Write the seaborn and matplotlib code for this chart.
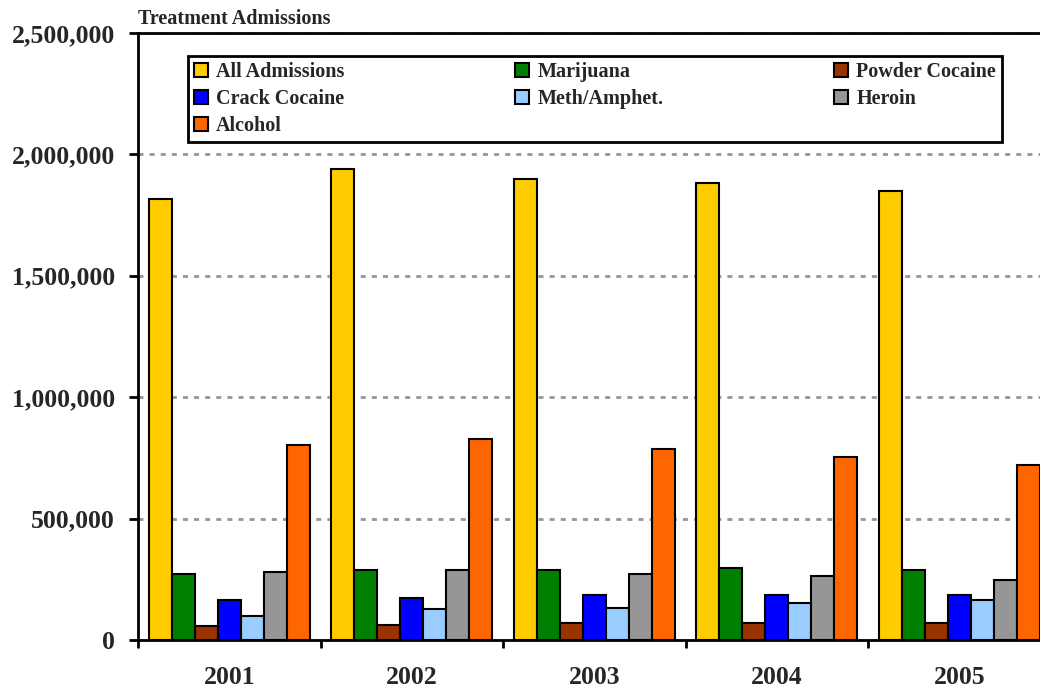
import matplotlib.pyplot as plt
import pandas as pd
import seaborn as sns
from matplotlib.ticker import FuncFormatter

years = ["2001", "2002", "2003", "2004", "2005"]
all_admissions = [1818000, 1941000, 1900000, 1883000, 1851000]
marijuana = [272000, 288000, 288000, 297000, 288000]
powder_cocaine = [59000, 60000, 71000, 71000, 71000]
crack_cocaine = [165000, 175000, 185000, 185000, 185000]
meth_amphet = [100000, 126000, 133000, 151000, 165000]
heroin = [280000, 288000, 272000, 264000, 248000]
alcohol = [804000, 829000, 788000, 755000, 722000]

types = ["All Admissions", "Marijuana", "Powder Cocaine", "Crack Cocaine",
         "Meth/Amphet.", "Heroin", "Alcohol"]
colors = ["#FFCC00", "#008000", "#993300", "#0000FF", "#99CCFF", "#969696", "#FF6600"]

df = pd.DataFrame({
    "year": years,
    "All Admissions": all_admissions,
    "Marijuana": marijuana,
    "Powder Cocaine": powder_cocaine,
    "Crack Cocaine": crack_cocaine,
    "Meth/Amphet.": meth_amphet,
    "Heroin": heroin,
    "Alcohol": alcohol,
})
long_df = df.melt(id_vars="year", var_name="type", value_name="count")

sns.set_style("white")
plt.rcParams["font.family"] = ["Liberation Serif", "DejaVu Serif"]
plt.rcParams["font.weight"] = "bold"

fig = plt.figure(figsize=(10.4, 6.88), dpi=100)
ax = fig.add_axes([138 / 1040, 1 - 640 / 688, 902 / 1040, 607 / 688])

sns.barplot(data=long_df, x="year", y="count", hue="type", hue_order=types,
            palette=colors, saturation=1, width=0.88, errorbar=None,
            edgecolor="black", linewidth=1.5, ax=ax)

ax.set_yticks(range(0, 2500001, 500000))
ax.yaxis.set_major_formatter(FuncFormatter(lambda v, p: f"{int(v):,}"))
ax.set_xlabel("")
ax.set_ylabel("")

ax.yaxis.grid(True, color="#969696", linestyle=(0, (1.8, 2.2)), linewidth=2)
ax.set_axisbelow(True)

ax.tick_params(axis="y", direction="out", length=6.5, width=2, color="black",
               labelsize=18.5, pad=10, left=True)
ax.set_xticks([i - 0.5 for i in range(6)], minor=True)
ax.tick_params(axis="x", which="major", length=0, labelsize=18.5, pad=19)
ax.tick_params(axis="x", which="minor", direction="out", length=6, width=2,
               color="black", bottom=True)

# limits after the ticks, since set_xticks widens the view
ax.set_xlim(-0.5, -0.5 + 902 / 182.5)
ax.set_ylim(0, 2500000)

for side in ["left", "bottom", "top"]:
    ax.spines[side].set_linewidth(2)
    ax.spines[side].set_color("black")
ax.spines["right"].set_visible(False)

fig.text(138 / 1040, 1 - 19 / 688, "Treatment Admissions", ha="left", va="center",
         fontsize=14.5, fontweight="bold")

# legend filled column-wise, so reorder to read row-wise like the original
handles, labels = ax.get_legend_handles_labels()
order = [0, 3, 6, 1, 4, 2, 5]
leg = ax.legend([handles[i] for i in order], [labels[i] for i in order],
                ncol=3, loc="upper left", mode="expand",
                bbox_to_anchor=(50 / 902, (640 - 143) / 607, 814 / 902, 87 / 607),
                frameon=True, fancybox=False, edgecolor="black", framealpha=1,
                fontsize=14.5, handlelength=0.7, handleheight=0.7,
                handletextpad=0.4, labelspacing=0.35, borderaxespad=0,
                borderpad=0.3)
leg.get_frame().set_linewidth(2)
for h in leg.legend_handles:
    h.set_edgecolor("black")
    h.set_linewidth(1.5)

fig.savefig("out.png", dpi=100)
